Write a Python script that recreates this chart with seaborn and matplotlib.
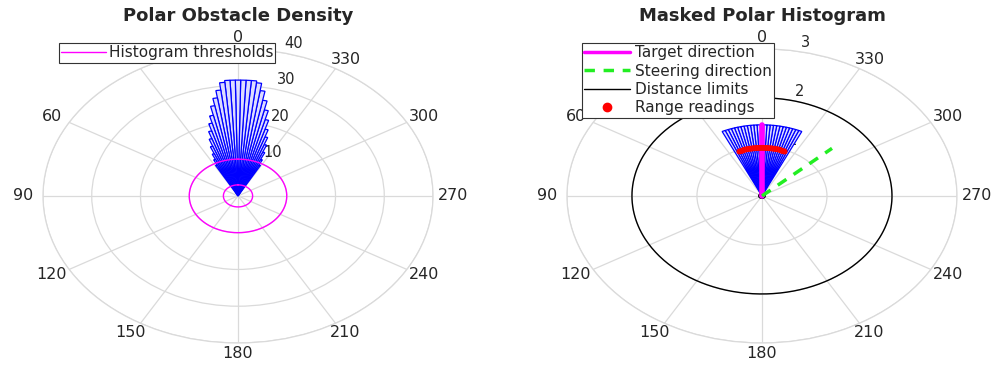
import numpy as np
import matplotlib
matplotlib.use("Agg")
import matplotlib.pyplot as plt
import matplotlib.transforms as mtransforms
import seaborn as sns
from matplotlib.lines import Line2D

# polar obstacle density (2 deg sectors), angles in degrees, ccw from top
density_angles = [-28, -26, -24, -22, -20, -18, -16, -14, -12, -10, -8, -6, -4, -2, 0,
                  2, 4, 6, 8, 10, 12, 14, 16, 18, 20, 22, 24, 26, 28]
density_values = [9.5, 11, 13, 15, 17, 19, 21.5, 24, 26.5, 29, 31, 31.5, 31.5, 31.5, 31.5,
                  31.5, 31.5, 31, 29, 27, 25, 22.5, 20.5, 18.5, 16.5, 14.5, 12.5, 11, 9.5]
hist_thresholds = [3, 10]

# masked histogram (blocked sectors)
masked_angles = [-24, -22, -20, -18, -16, -14, -12, -10, -8, -6, -4, -2, 0,
                 2, 4, 6, 8, 10, 12, 14, 16, 18, 20, 22, 24]
masked_values = [1.45] * len(masked_angles)

target_dir = 0
steer_dir = -48
dir_length = 1.45
distance_limits = [0.05, 2]

scan_angles = [-21, -19.5, -18, -16.5, -15, -13.5, -12, -10.5, -9, -7.5, -6, -4.5, -3, -1.5, 0,
               1.5, 3, 4.5, 6, 7.5, 9, 10.5, 12, 13.5, 15, 16.5, 18, 19.5, 21]
scan_ranges = [0.97, 0.97, 0.97, 0.98, 0.98, 0.98, 0.98, 0.98, 0.98, 0.98, 0.98, 0.98, 0.98, 0.98, 0.98,
               0.98, 0.98, 0.98, 0.98, 0.98, 0.98, 0.98, 0.98, 0.98, 0.98, 0.98, 0.97, 0.97, 0.97]

theta_ticks = list(range(0, 360, 30))
left_rticks = [10, 20, 30, 40]
right_rticks = [1, 2, 3]

sns.set_style("white")
plt.rcParams["font.family"] = ["DejaVu Sans"]

grid_col = "#dadada"
txt_col = "#262626"
fig = plt.figure(figsize=(9.95, 3.70), dpi=100)


def setup(ax, rmax, rticks, rlabel_angle):
    ax.set_theta_zero_location("N")
    ax.set_theta_direction(1)
    ax.set_aspect("auto")
    ax.set_ylim(0, rmax)
    ax.set_xticks(np.deg2rad(theta_ticks))
    ax.set_xticklabels([])
    ax.set_yticks(rticks)
    ax.set_yticklabels([])
    ax.grid(True, color=grid_col, linewidth=0.9)
    ax.spines["polar"].set_color(grid_col)
    ax.spines["polar"].set_linewidth(0.9)
    # theta labels just outside the (stretched) outer ring; 30 sits under the legend
    for t in theta_ticks:
        if t == 30:
            continue
        a = np.deg2rad(t)
        tr = mtransforms.offset_copy(ax.transData, fig=fig, x=-20 * np.sin(a), y=11 * np.cos(a),
                                     units="dots")
        ax.text(a, rmax, str(t), transform=tr, fontsize=11.5, color=txt_col,
                ha="center", va="center", clip_on=False)
    shifted = mtransforms.offset_copy(ax.transData, fig=fig, x=19, y=7, units="dots")
    for r in rticks:
        ax.text(np.deg2rad(rlabel_angle), r, str(r), transform=shifted, fontsize=10.5,
                color=txt_col, ha="left", va="center", zorder=1, clip_on=False)


circle = np.linspace(0, 2 * np.pi, 361)

# left: polar obstacle density
ax1 = fig.add_axes([0.0432, 0.073, 0.392, 0.795], projection="polar")
setup(ax1, 40, left_rticks, -8)
ax1.bar(np.deg2rad(density_angles), density_values, width=np.deg2rad(2), bottom=0,
        facecolor="#dcdcff", edgecolor="blue", linewidth=0.9, zorder=2)
for th in hist_thresholds:
    sns.lineplot(x=circle, y=np.full_like(circle, th), ax=ax1, color="magenta",
                 linewidth=1, estimator=None, sort=False, zorder=3)
fig.text(238 / 995, 1 - 16 / 370, "Polar Obstacle Density", fontsize=13, fontweight="bold",
         ha="center", va="center", color=txt_col)
leg1 = ax1.legend(handles=[Line2D([], [], color="magenta", lw=1)], labels=["Histogram thresholds"],
                  loc="upper left", bbox_to_anchor=(0.0593, 0.884), bbox_transform=fig.transFigure,
                  fontsize=11, frameon=True, fancybox=False, framealpha=1, edgecolor="#333333",
                  borderpad=0.15, handlelength=2.9, handletextpad=0.2, borderaxespad=0)
leg1.get_frame().set_linewidth(0.8)
leg1.set_zorder(10)

# right: masked polar histogram
ax2 = fig.add_axes([0.5698, 0.073, 0.392, 0.795], projection="polar")
setup(ax2, 3, right_rticks, -6)
ax2.bar(np.deg2rad(masked_angles), masked_values, width=np.deg2rad(2), bottom=0,
        facecolor="#dcdcff", edgecolor="blue", linewidth=0.9, zorder=2)
for d in distance_limits:
    sns.lineplot(x=circle, y=np.full_like(circle, d), ax=ax2, color="black",
                 linewidth=1, estimator=None, sort=False, zorder=3)
sns.lineplot(x=np.deg2rad([target_dir, target_dir]), y=[0, dir_length], ax=ax2, color="magenta",
             linewidth=4, estimator=None, sort=False, zorder=4)
sns.lineplot(x=np.deg2rad([steer_dir, steer_dir]), y=[0, dir_length], ax=ax2, color="#22ee22",
             linewidth=2.5, linestyle=(0, (3, 2.5)), estimator=None, sort=False, zorder=4)
sns.scatterplot(x=np.deg2rad(scan_angles), y=scan_ranges, ax=ax2, color="red", s=18,
                edgecolor="none", zorder=5)
fig.text(762 / 995, 1 - 16 / 370, "Masked Polar Histogram", fontsize=13, fontweight="bold",
         ha="center", va="center", color=txt_col)
handles = [Line2D([], [], color="magenta", lw=2.5),
           Line2D([], [], color="#22ee22", lw=2.5, linestyle=(0, (3, 2.5))),
           Line2D([], [], color="black", lw=1),
           Line2D([], [], color="red", marker="o", linestyle="none", markersize=6)]
labels = ["Target direction", "Steering direction", "Distance limits", "Range readings"]
leg2 = ax2.legend(handles=handles, labels=labels, loc="upper left", bbox_to_anchor=(0.585, 0.884),
                  bbox_transform=fig.transFigure, fontsize=11, frameon=True, fancybox=False,
                  framealpha=1, edgecolor="#333333", borderpad=0.15, handlelength=3.0,
                  handletextpad=0.3, labelspacing=0.22, borderaxespad=0)
leg2.get_frame().set_linewidth(0.8)
leg2.set_zorder(10)

fig.savefig("out.png", dpi=100)
